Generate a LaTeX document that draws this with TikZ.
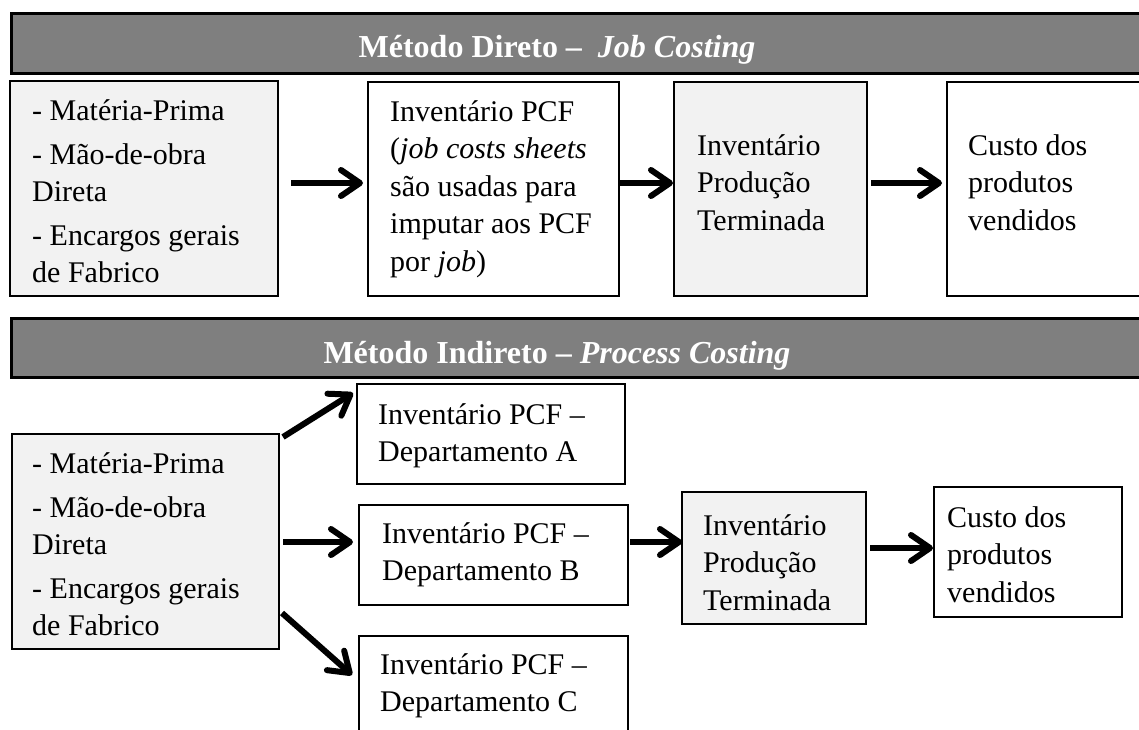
\documentclass[tikz,border=0pt]{standalone}
\usepackage{fontspec}
\setmainfont{Liberation Serif}
\usetikzlibrary{arrows.meta,calc}
\definecolor{headgray}{HTML}{7F7F7F}
\definecolor{boxgray}{HTML}{F2F2F2}
\begin{document}
\begin{tikzpicture}[x=1pt,y=-1pt,
  panel/.style={draw=black, line width=2.4pt, inner sep=0pt, outer sep=0pt, anchor=north west},
  plain/.style={panel, fill=white},
  shaded/.style={panel, fill=boxgray},
  banner/.style={draw=black, line width=3pt, fill=headgray, inner sep=0pt, anchor=north west,
                 minimum width=1160pt},
  bannertext/.style={anchor=base, inner sep=0pt, text=white, font=\fontsize{32}{36}\selectfont\bfseries},
  body/.style={anchor=base west, inner sep=0pt, text width=240pt, align=flush left,
               font=\fontsize{30}{37.5}\selectfont},
  flow/.style={line width=6pt, -{Straight Barb[length=19pt,width=26pt,round]}}]
\useasboundingbox (0,0) rectangle (1139,729);
\clip (0,0) rectangle (1139,729);

% ---------- direct method ----------
\node[banner, minimum height=60pt] (h1) at (10,12) {};
\node[bannertext] (h1t) at (557,57) {Método Direto – \hspace{8pt}\textit{Job Costing}};

\node[shaded, minimum width=268pt, minimum height=215pt] (b1) at (10,81) {};
\node[plain,  minimum width=251pt, minimum height=214pt] (b2) at (368,82) {};
\node[shaded, minimum width=193pt, minimum height=214pt] (b3) at (674,82) {};
\node[plain,  minimum width=230pt, minimum height=214pt] (b4) at (947,82) {};

\node[body] (b1t) at ($(b1.north west)+(22,39)$)
  {- Matéria-Prima\\[6.5pt]- Mão-de-obra\\Direta\\[6pt]- Encargos gerais\\de Fabrico};
\node[body] (b2t) at ($(b2.north west)+(22,39)$)
  {Inventário PCF\\(\textit{job costs sheets}\\são usadas para\\imputar aos PCF\\por \textit{job})};
\node[body] (b3t) at ($(b3.north west)+(23,73)$) {Inventário\\Produção\\Terminada};
\node[body] (b4t) at ($(b4.north west)+(21,73)$) {Custo dos\\produtos\\vendidos};

\coordinate (r1) at (0,183);
\draw[flow] ($(b1.east |- r1)+(13,0)$) -- ($(b2.west |- r1)+(-5,0)$);
\draw[flow] ($(b2.east |- r1)+(1,0)$)  -- ($(b3.west |- r1)+(-1,0)$);
\draw[flow] ($(b3.east |- r1)+(4,0)$)  -- ($(b4.west |- r1)+(-5,0)$);

% ---------- indirect method ----------
\node[banner, minimum height=59pt] (h2) at (10,317) {};
\node[bannertext] (h2t) at (557,363) {Método Indireto – \textit{Process Costing}};

\node[shaded, minimum width=267pt, minimum height=215pt] (c1) at (12,434) {};
\node[plain,  minimum width=268pt, minimum height=100pt] (cA) at (357,384) {};
\node[plain,  minimum width=269pt, minimum height=100pt] (cB) at (359,505) {};
\node[plain,  minimum width=269pt, minimum height=120pt] (cC) at (359,636) {};
\node[shaded, minimum width=184pt, minimum height=132pt] (cP) at (682,492) {};
\node[plain,  minimum width=188pt, minimum height=130pt] (cK) at (934,487) {};

\node[body] (c1t) at ($(c1.north west)+(20,39)$)
  {- Matéria-Prima\\[6.5pt]- Mão-de-obra\\Direta\\[6pt]- Encargos gerais\\de Fabrico};
\node[body] (cAt) at ($(cA.north west)+(21,40)$) {Inventário PCF –\\Departamento A};
\node[body] (cBt) at ($(cB.north west)+(23,38)$) {Inventário PCF –\\Departamento B};
\node[body] (cCt) at ($(cC.north west)+(21,38)$) {Inventário PCF –\\Departamento C};
\node[body] (cPt) at ($(cP.north west)+(21,43)$) {Inventário\\Produção\\Terminada};
\node[body] (cKt) at ($(cK.north west)+(13,40)$) {Custo dos\\produtos\\vendidos};

\coordinate (r2) at (0,542);
\coordinate (r3) at (0,548);
\draw[flow] ($(c1.north east)+(4,3)$) -- ($(cA.north west)+(-4,9)$);
\draw[flow] ($(c1.east |- r2)+(4,0)$) -- ($(cB.west |- r2)+(-6,0)$);
\draw[flow] ($(c1.south east)+(3,-36)$) -- ($(cC.north west)+(-7,39)$);
\draw[flow] ($(cB.east |- r2)+(2,0)$) -- ($(cP.west |- r2)+(0,0)$);
\draw[flow] ($(cP.east |- r3)+(4,0)$) -- ($(cK.west |- r3)+(-1,0)$);
\end{tikzpicture}
\end{document}
